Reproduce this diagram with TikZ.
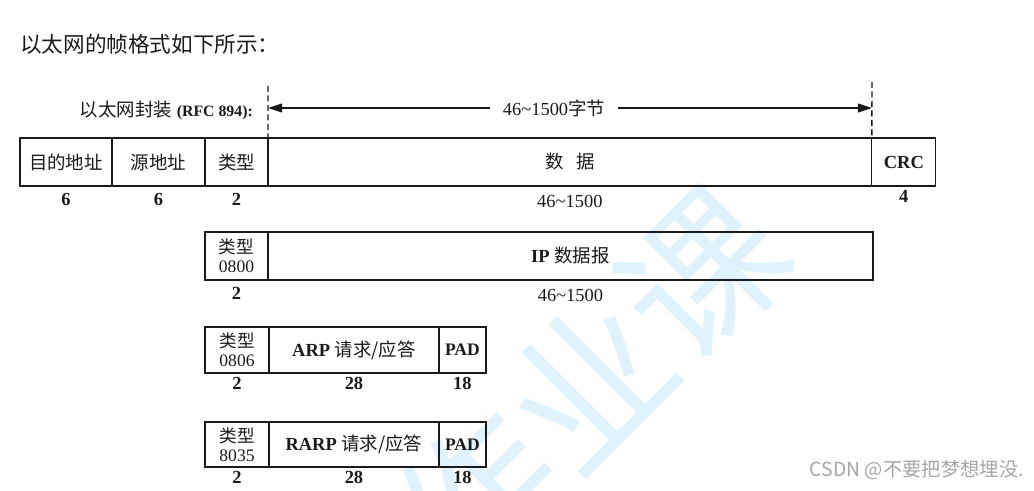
\documentclass[tikz,border=0pt]{standalone}
\usepackage{fontspec}
\setmainfont{Liberation Serif}
\newfontfamily\cjk{Noto Sans CJK SC}
\usetikzlibrary{arrows.meta,positioning}
\definecolor{efInk}{HTML}{1A1A1A}
\definecolor{efMark}{HTML}{E0F3FC}
\definecolor{efNote}{HTML}{A6A6A6}
\newcommand\efbase{\fontsize{10.5pt}{12pt}\selectfont}
\tikzset{
  ef field/.style={
    draw=efInk,
    line width=.7pt,
    inner sep=0pt,
    outer sep=0pt,
    align=center,
    text=efInk,
    font=\efbase
  },
  ef type/.style={ef field, font=\fontsize{10pt}{11pt}\selectfont},
  ef pad/.style={ef field, font=\fontsize{10pt}{11pt}\selectfont\bfseries},
  ef size/.style={font=\efbase\bfseries, text=efInk, inner sep=1pt},
  ef bound/.style={
    draw=efInk,
    line width=.8pt,
    dash pattern=on 3.4pt off 2pt
  },
  ef span/.style={
    draw=efInk,
    line width=.8pt,
    -{Triangle[length=8pt,width=5pt]}
  },
  ef label/.style={font=\efbase, text=efInk}
}

\begin{document}
\begin{tikzpicture}[x=.02cm,y=-.02cm]
  \useasboundingbox (0,0) rectangle (1034,490);
  % watermark
  \begin{scope}
    \clip (0,0) rectangle (1034,490);
    \node[text=efMark, rotate=45, font=\cjk\fontsize{90pt}{90pt}\selectfont] (mark) at (590,385) {作业课};
  \end{scope}

  \node[anchor=west, text=efInk, font=\cjk\fontsize{12.3pt}{14pt}\selectfont] (title) at (14,44) {以太网的帧格式如下所示：};
  \node[ef label, anchor=east] (encap) at (259,110) {{\cjk 以太网封装} {\bfseries\small (RFC 894):}};

  % ethernet frame
  \node[ef field, minimum height=.96cm, minimum width=1.84cm] (dst) at (66,162) {\cjk 目的地址};
  \node[ef field, minimum height=.96cm, minimum width=1.86cm, right=0pt of dst] (src) {\cjk 源地址};
  \node[ef field, minimum height=.96cm, minimum width=1.26cm, right=0pt of src] (type) {\cjk 类型};
  \node[ef field, minimum height=.96cm, minimum width=12.08cm, right=0pt of type] (data) {\cjk 数\hspace{.7em}据};
  \node[ef field, minimum height=.96cm, minimum width=1.28cm, right=0pt of data] (crc) {\bfseries CRC};
  \node[ef size, below=3pt of dst] (dstlen) {6};
  \node[ef size, below=3pt of src] (srclen) {6};
  \node[ef size, below=3pt of type] (typelen) {2};
  \node[ef label, below=2pt of data] (datalen) {46\textasciitilde 1500};
  \node[ef size, below=1pt of crc] (crclen) {4};

  % payload span
  \node[ef label, inner xsep=7pt] (span) at (554,108) {46\textasciitilde 1500{\cjk 字节}};
  \coordinate (lo) at (268,108);
  \coordinate (hi) at (872,108);
  \coordinate (lotop) at (268,86);
  \coordinate (hitop) at (872,82);
  \draw[ef bound] (lotop) -- (data.north west);
  \draw[ef bound] (hitop) -- (data.north east);
  \draw[ef span] (span) -- (lo);
  \draw[ef span] (span) -- (hi);

  % IP datagram
  \node[ef type, minimum height=.96cm, minimum width=1.26cm] (iptype) at (236.5,256) {{\cjk 类型}\\0800};
  \node[ef field, minimum height=.96cm, minimum width=12.1cm, right=0pt of iptype] (ip) {{\bfseries IP} {\cjk 数据报}};
  \node[ef size, below=3pt of iptype] (iptypelen) {2};
  \node[ef label, below=2pt of ip] (iplen) {46\textasciitilde 1500};

  % ARP request / reply
  \node[ef type, minimum height=.92cm, minimum width=1.28cm] (arptype) at (237,350) {{\cjk 类型}\\0806};
  \node[ef field, minimum height=.92cm, minimum width=3.4cm, right=0pt of arptype] (arp) {{\bfseries ARP} {\cjk 请求/应答}};
  \node[ef pad, minimum height=.92cm, minimum width=.94cm, right=0pt of arp] (arppad) {PAD};
  \node[ef size, below=1pt of arptype] (arptypelen) {2};
  \node[ef size, below=1pt of arp] (arplen) {28};
  \node[ef size, below=1pt of arppad] (arppadlen) {18};

  % RARP request / reply
  \node[ef type, minimum height=.9cm, minimum width=1.28cm] (rarptype) at (237,444.5) {{\cjk 类型}\\8035};
  \node[ef field, minimum height=.9cm, minimum width=3.4cm, right=0pt of rarptype] (rarp) {{\bfseries RARP} {\cjk 请求/应答}};
  \node[ef pad, minimum height=.9cm, minimum width=.94cm, right=0pt of rarp] (rarppad) {PAD};
  \node[ef size, below=1pt of rarptype] (rarptypelen) {2};
  \node[ef size, below=1pt of rarp] (rarplen) {28};
  \node[ef size, below=1pt of rarppad] (rarppadlen) {18};

  \node[anchor=east, text=efNote, font=\cjk\fontsize{11pt}{13pt}\selectfont] (note) at (1030,470) {CSDN @不要把梦想埋没.};
\end{tikzpicture}
\end{document}
